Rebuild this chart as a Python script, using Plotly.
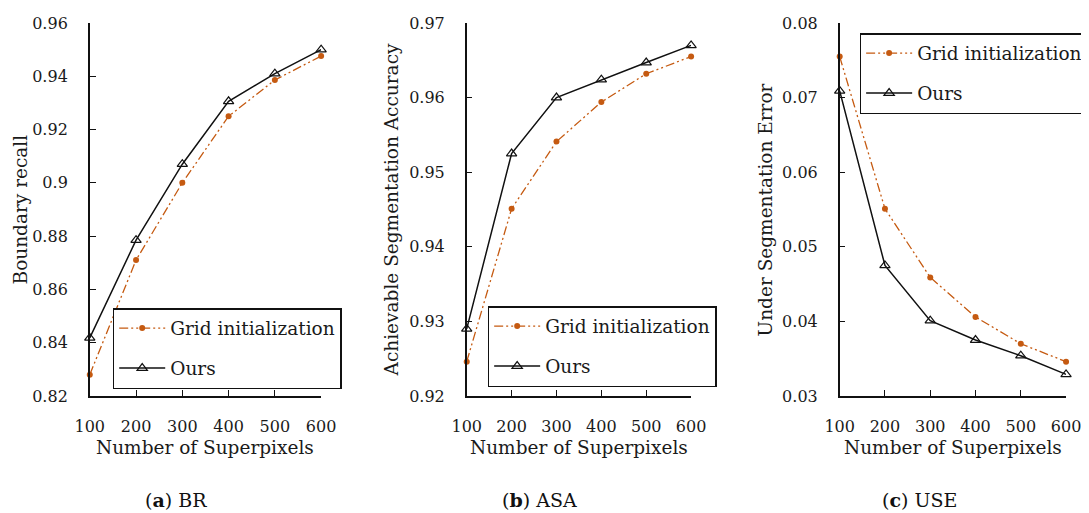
import plotly.graph_objects as go

x_vals = [100, 200, 300, 400, 500, 600]

br_grid = [0.828, 0.871, 0.900, 0.925, 0.9386, 0.9476]
br_ours = [0.8418, 0.8785, 0.907, 0.9306, 0.941, 0.950]

asa_grid = [0.9246, 0.9451, 0.9541, 0.9594, 0.9632, 0.9655]
asa_ours = [0.929, 0.9525, 0.960, 0.9624, 0.9647, 0.967]

use_grid = [0.0755, 0.0551, 0.0459, 0.0406, 0.0370, 0.0346]
use_ours = [0.0709, 0.0475, 0.0401, 0.0375, 0.0354, 0.0329]

br_ticks = [0.82, 0.84, 0.86, 0.88, 0.90, 0.92, 0.94, 0.96]
br_ticktext = ["0.82", "0.84", "0.86", "0.88", "0.9", "0.92", "0.94", "0.96"]
asa_ticks = [0.92, 0.93, 0.94, 0.95, 0.96, 0.97]
asa_ticktext = ["0.92", "0.93", "0.94", "0.95", "0.96", "0.97"]
use_ticks = [0.03, 0.04, 0.05, 0.06, 0.07, 0.08]
use_ticktext = ["0.03", "0.04", "0.05", "0.06", "0.07", "0.08"]

y_titles = ["Boundary recall", "Achievable Segmentation Accuracy", "Under Segmentation Error"]
captions = ["(<b>a</b>) BR", "(<b>b</b>) ASA", "(<b>c</b>) USE"]
x_title = "Number of Superpixels"
names = ["Grid initialization", "Ours"]

# the page body adds an 8px margin around the figure
OFF = 8
W, H = 1089 - OFF, 513 - OFF
FONT = "DejaVu Serif, Liberation Serif, serif"
ORANGE = "#C55A11"
TXT = "#1a1a1a"


def fx(px):
    return (px - OFF) / W


def fy(py):
    return 1 - (py - OFF) / H


panels = [
    dict(grid=br_grid, ours=br_ours, ticks=br_ticks, ttext=br_ticktext, yr=[0.82, 0.96],
         px=(90, 322), ytitle_x=21, cap_x=176, leg=(113, 308)),
    dict(grid=asa_grid, ours=asa_ours, ticks=asa_ticks, ttext=asa_ticktext, yr=[0.92, 0.97],
         px=(468, 693), ytitle_x=393, cap_x=541, leg=(489, 306)),
    dict(grid=use_grid, ours=use_ours, ticks=use_ticks, ttext=use_ticktext, yr=[0.03, 0.08],
         px=(842, 1069), ytitle_x=768, cap_x=922, leg=(862, 33)),
]

top_px, bot_px = 23, 396

fig = go.Figure()
layout = dict(
    template="none",
    width=W, height=H, margin=dict(l=0, r=0, t=0, b=0, pad=0),
    paper_bgcolor="white", plot_bgcolor="white",
    font=dict(family=FONT, color=TXT, size=16),
    showlegend=True, annotations=[],
)

for i, p in enumerate(panels):
    k = "" if i == 0 else str(i + 1)
    xa, ya = "x" + k, "y" + k
    leg = "legend" + k
    fig.add_trace(go.Scatter(
        x=x_vals, y=p["grid"], name=names[0], xaxis=xa, yaxis=ya, legend=leg,
        legendgroup="g" + k, mode="lines+markers", cliponaxis=False,
        line=dict(color=ORANGE, width=1.3, dash="9px,3px,2px,3px,2px,3px"),
        marker=dict(symbol="circle", size=6, color=ORANGE),
    ))
    fig.add_trace(go.Scatter(
        x=x_vals, y=p["ours"], name=names[1], xaxis=xa, yaxis=ya, legend=leg,
        legendgroup="o" + k, mode="lines+markers", cliponaxis=False,
        line=dict(color="#111111", width=1.5),
        marker=dict(symbol="triangle-up-open", size=9, color="#111111", line=dict(width=1.2)),
    ))
    layout["xaxis" + k] = dict(
        domain=[fx(p["px"][0]), fx(p["px"][1])], anchor=ya, range=[100, 600],
        tickvals=x_vals, ticktext=[str(v) for v in x_vals], ticks="inside", ticklen=6,
        tickcolor="#111111", tickwidth=1.3, showline=True, linecolor="#111111", linewidth=1.5,
        showgrid=False, zeroline=False, automargin=False,
        tickfont=dict(size=16, family=FONT, color=TXT),
        ticklabelstandoff=15,
    )
    layout["yaxis" + k] = dict(
        domain=[fy(bot_px), fy(top_px)], anchor=xa, range=p["yr"],
        tickvals=p["ticks"], ticktext=p["ttext"], ticks="inside", ticklen=6,
        tickcolor="#111111", tickwidth=1.3, showline=True, linecolor="#111111", linewidth=1.5,
        showgrid=False, zeroline=False, automargin=False,
        tickfont=dict(size=16, family=FONT, color=TXT),
        ticklabelstandoff=17,
    )
    layout[leg] = dict(
        x=fx(p["leg"][0]), y=fy(p["leg"][1]), xanchor="left", yanchor="top",
        bgcolor="white", bordercolor="#111111", borderwidth=1.5,
        font=dict(size=18.5, family=FONT, color=TXT), tracegroupgap=13,
        itemwidth=46,
    )
    cx = fx((p["px"][0] + p["px"][1]) / 2)
    layout["annotations"].append(dict(
        text=x_title, x=cx, y=fy(447), xref="paper", yref="paper",
        xanchor="center", yanchor="middle", showarrow=False,
        font=dict(size=18.5, family=FONT, color=TXT),
    ))
    layout["annotations"].append(dict(
        text=y_titles[i], x=fx(p["ytitle_x"]), y=fy((top_px + bot_px) / 2),
        xref="paper", yref="paper", xanchor="center", yanchor="middle",
        textangle=-90, showarrow=False,
        font=dict(size=18.5, family=FONT, color=TXT),
    ))
    layout["annotations"].append(dict(
        text=captions[i], x=fx(p["cap_x"]), y=fy(500), xref="paper", yref="paper",
        xanchor="center", yanchor="middle", showarrow=False,
        font=dict(size=19, family=FONT, color="#111111"),
    ))

fig.update_layout(**layout)
fig.write_html("out.html")
